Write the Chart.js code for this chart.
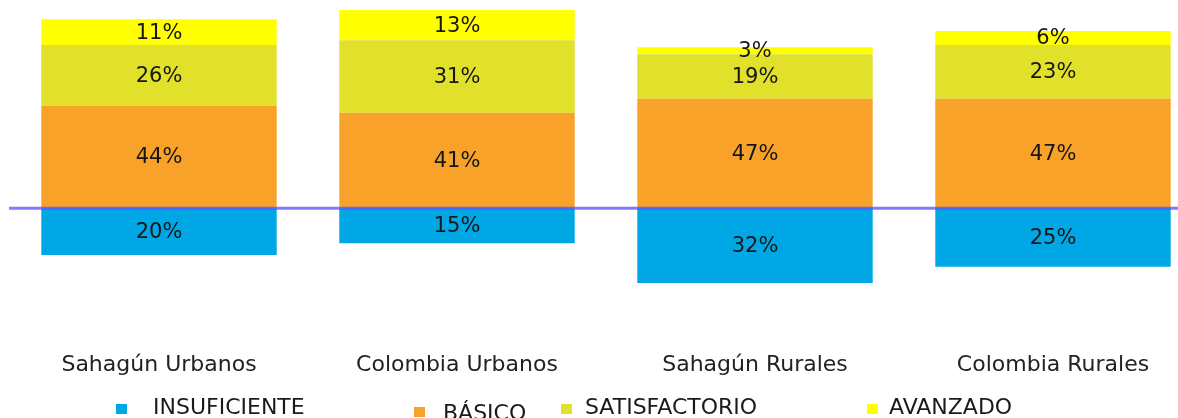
<!DOCTYPE html>
<html>
<head>
<meta charset="utf-8">
<script src="https://cdn.jsdelivr.net/npm/chart.js@4/dist/chart.umd.min.js"></script>
<style>
    html, body { margin: 0; padding: 0; background: #fff; overflow: hidden; }
    #wrap { position: relative; width: 1212px; height: 418px; }
    #legend { position: absolute; left: 0; top: 0; width: 100%; height: 100%; pointer-events: none; }
    .lg-box { position: absolute; width: 11px; height: 10px; }
    .lg-txt { position: absolute; font: 22px 'DejaVu Sans', sans-serif; line-height: 22px; color: #1a1a1a; white-space: nowrap; }
</style>
</head>
<body>
<div id="wrap">
    <canvas id="chart"></canvas>
    <div id="legend"></div>
</div>
<script>
    // data (percent of students)
    const categories = ['Sahagún Urbanos', 'Colombia Urbanos', 'Sahagún Rurales', 'Colombia Rurales'];
    const insuficiente = [20, 15, 32, 25];
    const basico = [44, 41, 47, 47];
    const satisfactorio = [26, 31, 19, 23];
    const avanzado = [11, 13, 3, 6];

    const seriesNames = ['INSUFICIENTE', 'BÁSICO', 'SATISFACTORIO', 'AVANZADO'];
    const seriesColors = ['#00a7e5', '#f8a22a', '#e1e12b', '#ffff00'];

    // where the legend entries sit (marker x, text x, vertical nudge)
    const legendLayout = [
        { box: 116, text: 153, dy: 0 },
        { box: 414, text: 443, dy: 6 },
        { box: 561, text: 585, dy: 0 },
        { box: 867, text: 889, dy: 0 }
    ];

    const zeroLine = {
        id: 'zeroLine',
        afterDatasetsDraw(chart) {
            const ctx = chart.ctx;
            const y = chart.scales.y.getPixelForValue(0);
            ctx.save();
            ctx.strokeStyle = 'rgba(88,78,255,0.75)';
            ctx.lineWidth = 3;
            ctx.beginPath();
            ctx.moveTo(chart.chartArea.left - 1, y);
            ctx.lineTo(chart.width, y);
            ctx.stroke();
            ctx.restore();
        }
    };

    const valueLabels = {
        id: 'valueLabels',
        afterDatasetsDraw(chart) {
            const ctx = chart.ctx;
            ctx.save();
            ctx.font = "21px 'DejaVu Sans', sans-serif";
            ctx.fillStyle = '#161616';
            ctx.textAlign = 'center';
            ctx.textBaseline = 'middle';
            chart.data.datasets.forEach((ds, i) => {
                chart.getDatasetMeta(i).data.forEach((bar, j) => {
                    const v = Math.abs(ds.data[j]);
                    ctx.fillText(v + '%', bar.x, (bar.y + bar.base) / 2 + 1);
                });
            });
            ctx.restore();
        }
    };

    const allSeries = [insuficiente.map(v => -v), basico, satisfactorio, avanzado];

    new Chart(document.getElementById('chart'), {
        type: 'bar',
        data: {
            labels: categories,
            datasets: allSeries.map((d, i) => ({
                label: seriesNames[i],
                data: d,
                backgroundColor: seriesColors[i],
                borderWidth: 0,
                barPercentage: 0.79,
                categoryPercentage: 1
            }))
        },
        options: {
            responsive: true,
            maintainAspectRatio: false,
            animation: false,
            layout: { padding: { left: 10, right: 10, top: 0, bottom: 19 } },
            plugins: {
                legend: { display: false },
                tooltip: { enabled: false }
            },
            scales: {
                x: {
                    stacked: true,
                    grid: { display: false, drawTicks: false },
                    border: { display: false },
                    ticks: {
                        padding: 21,
                        color: '#222',
                        maxRotation: 0,
                        font: { family: "'DejaVu Sans', sans-serif", size: 22 }
                    }
                },
                y: {
                    stacked: true,
                    display: false,
                    min: -52.4,
                    max: 89.3
                }
            }
        },
        plugins: [zeroLine, valueLabels]
    });

    const legend = document.getElementById('legend');
    seriesNames.forEach((name, i) => {
        const pos = legendLayout[i];
        const box = document.createElement('div');
        box.className = 'lg-box';
        box.style.left = pos.box + 'px';
        box.style.top = (404 + pos.dy / 2) + 'px';
        box.style.background = seriesColors[i];
        const txt = document.createElement('div');
        txt.className = 'lg-txt';
        txt.style.left = pos.text + 'px';
        txt.style.top = (396 + pos.dy) + 'px';
        txt.textContent = name;
        legend.appendChild(box);
        legend.appendChild(txt);
    });
</script>
</body>
</html>
